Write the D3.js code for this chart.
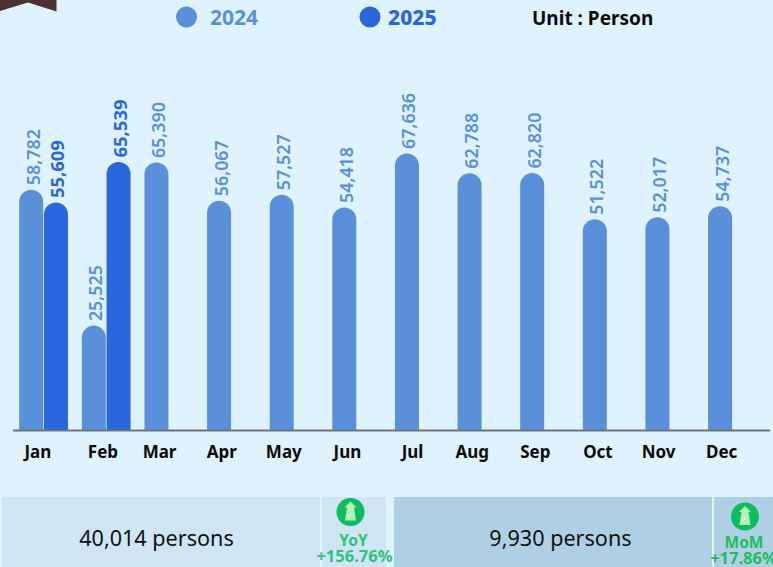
<!DOCTYPE html>
<html><head><meta charset="utf-8">
<script src="https://cdn.jsdelivr.net/npm/d3@7/dist/d3.min.js"></script>
<style>html,body{margin:0;padding:0;background:#dff3ff;overflow:hidden}svg{display:block}text{font-family:"Noto Sans",Lato,sans-serif}</style>
</head><body><svg id="c" width="773" height="567"></svg>
<script>
const months=["Jan","Feb","Mar","Apr","May","Jun","Jul","Aug","Sep","Oct","Nov","Dec"];
const years=["2024","2025"];
const values2024=[58782,25525,65390,56067,57527,54418,67636,62788,62820,51522,52017,54737];
const values2025=[55609,65539];
const unitLabel="Unit : Person";
const summaryTexts=["40,014 persons","9,930 persons"];
const changeNames=["YoY","MoM"];
const changeValues=["+156.76%","+17.86%"];

const colors={"2024":"#5a8fd9","2025":"#2b67dc"};
const tickNudge={Jan:-5.5,Feb:-3,Mar:-9,Apr:-9.5,May:-10,Jun:-9,Jul:-6.5,Aug:-9.5,Sep:-9,Oct:-9,Nov:-11,Dec:-10.5};
const svg=d3.select("#c");
const base=430;
const x0=d3.scaleBand().domain(months).range([12,763.5]);
const x1=d3.scaleBand().domain(years).range([-24.5,25]);
const y=d3.scaleLinear().domain([0,65539]).range([base,162]);
const barW=24;

function barPath(cx,v){
  const t=y(v),r=12,l=cx-barW/2,R=cx+barW/2;
  return `M${l},${base}V${t+r}A${r},${r} 0 0 1 ${R},${t+r}V${base}Z`;
}
svg.append("path").attr("d","M0,0H56.5V11.5L28,2.5L0,11Z").attr("fill","#4c3232");

const lg=[{k:"2024",cx:186.5,tx:210,fw:700},{k:"2025",cx:370,tx:388,fw:800}];
svg.selectAll(".lgc").data(lg).join("circle").attr("cx",d=>d.cx).attr("cy",17).attr("r",10.5).attr("fill",d=>colors[d.k]);
svg.selectAll(".lgt").data(lg).join("text").attr("x",d=>d.tx).attr("y",25).attr("font-family","Lato").attr("font-size",21).attr("font-weight",d=>d.fw).attr("fill",d=>colors[d.k]).text(d=>d.k);
svg.append("text").attr("x",532).attr("y",24.5).attr("font-size",19).attr("font-weight",700).attr("fill","#0b0b0b").text(unitLabel);

const series=[{k:"2024",vals:values2024},{k:"2025",vals:values2025}];
series.forEach(s=>{
  const pts=s.vals.map((v,i)=>({m:months[i],v,cx:x0(months[i])+x0.bandwidth()/2+x1(s.k)+x1.bandwidth()/2}));
  svg.append("g").selectAll("path").data(pts).join("path")
    .attr("d",d=>barPath(d.cx,d.v)).attr("fill",colors[s.k]);
  svg.append("g").selectAll("text").data(pts).join("text")
    .attr("transform",d=>`translate(${d.cx+8.5},${y(d.v)-4.5}) rotate(-90)`)
    .attr("font-size",17.5).attr("font-weight",s.k==="2025"?700:600)
    .attr("textLength",s.k==="2025"?58:56).attr("lengthAdjust","spacingAndGlyphs")
    .attr("fill",colors[s.k]).text(d=>d3.format(",")(d.v));
});

const axis=svg.append("g").attr("transform",`translate(0,${base})`).call(d3.axisBottom(x0).tickSize(0).tickPadding(16));
axis.select(".domain").remove();
svg.append("line").attr("x1",13).attr("x2",770).attr("y1",base+.5).attr("y2",base+.5).attr("stroke","#6f7478").attr("stroke-width",2);
axis.selectAll(".tick text").attr("font-size",17).attr("font-weight",700).attr("fill","#0b0b0b")
  .attr("font-family","Noto Sans,sans-serif").attr("dx",d=>tickNudge[d]);

const panels=[
 {a:2,b:320,c:322,d:386,fill:"#cfe5f3",tc:summaryTexts[0],tx:156.5,ix:350.5,iy:512,lx:354.5,n:changeNames[0],v:changeValues[0],col:"#2fc27c",ny:546,vy:562},
 {a:394,b:712,c:714,d:773,fill:"#afd0e4",tc:summaryTexts[1],tx:560.5,ix:745,iy:516.5,lx:743.5,n:changeNames[1],v:changeValues[1],col:"#1ebe5d",ny:548,vy:564}
];
panels.forEach(p=>{
  const g=svg.append("g");
  g.append("rect").attr("x",p.a).attr("y",497).attr("width",p.b-p.a).attr("height",70).attr("fill",p.fill);
  g.append("rect").attr("x",p.c).attr("y",497).attr("width",p.d-p.c).attr("height",70).attr("fill",p.fill);
  g.append("text").attr("x",p.tx).attr("y",546).attr("text-anchor","middle").attr("font-size",21.6).attr("fill","#111").text(p.tc);
  g.append("circle").attr("cx",p.ix).attr("cy",p.iy).attr("r",14).attr("fill","#0cbc60");
  const ic=g.append("g").attr("transform",`translate(${p.ix},${p.iy})`);
  ic.append("path").attr("d","M0,-10.5L6,-4.5H3.5L5.5,8.5H-5.5L-3.5,-4.5H-6Z").attr("fill","#b4f0b4");
  ic.append("path").attr("d","M-2.5,4.5L2.5,0.5").attr("stroke","#e8ffe8").attr("stroke-width",1);
  g.append("text").attr("x",p.ix+(p.n==="YoY"?3:-1)).attr("y",p.ny).attr("text-anchor","middle").attr("font-size",15.5).attr("font-weight",700).attr("fill",p.col).text(p.n);
  g.append("text").attr("x",p.lx).attr("y",p.vy).attr("text-anchor","middle").attr("font-size",16.5).attr("font-weight",700).attr("fill",p.col).text(p.v);
});
</script></body></html>
